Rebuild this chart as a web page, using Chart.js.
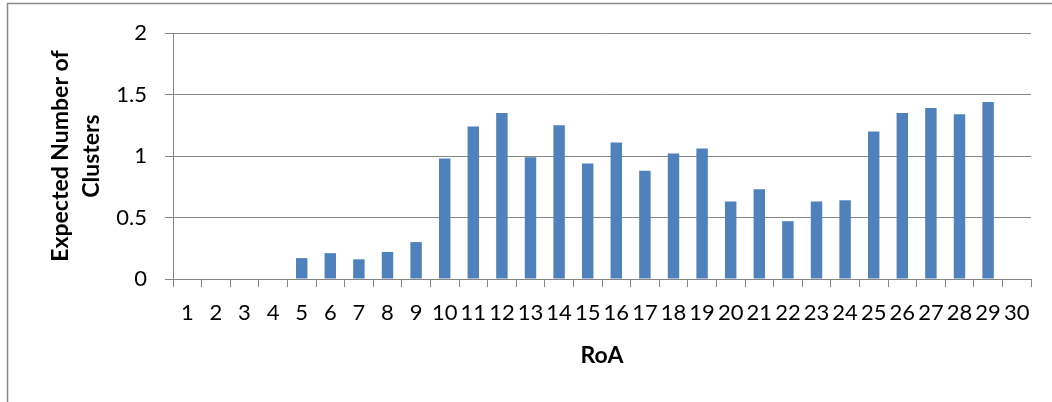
<!DOCTYPE html>
<html>
<head>
<meta charset="utf-8">
<script src="https://cdn.jsdelivr.net/npm/chart.js@4.4.1/dist/chart.umd.min.js"></script>
<style>
  html, body { margin: 0; padding: 0; background: #ffffff; }
  #wrap { width: 1052px; height: 402px; position: relative; }
</style>
</head>
<body>
<div id="wrap"><canvas id="chart" width="1052" height="402"></canvas></div>
<script>
// RoA categories along the x axis
const roaLabels = ['1','2','3','4','5','6','7','8','9','10','11','12','13','14','15',
                   '16','17','18','19','20','21','22','23','24','25','26','27','28','29','30'];

// Expected number of clusters for each RoA
const expectedClusters = [0, 0, 0, 0, 0.17, 0.21, 0.16, 0.22, 0.30, 0.98,
                          1.24, 1.35, 0.99, 1.25, 0.94, 1.11, 0.88, 1.02, 1.06, 0.63,
                          0.73, 0.47, 0.63, 0.64, 1.20, 1.35, 1.39, 1.34, 1.44, 0];

// Value axis range and labelled steps
const yMin = 0;
const yMax = 2;
const yStep = 0.5;
const yTickLabels = { 0: '0', 0.5: '0.5', 1: '1', 1.5: '1.5', 2: '2' };

const xTitle = 'RoA';
const yTitle = ['Expected Number of', 'Clusters'];

const FONT = "Lato, 'Open Sans', 'Liberation Sans', sans-serif";
const GRID = '#868686';

// Thin frame on the top and left edges of the chart
const framePlugin = {
  id: 'frame',
  afterDraw(chart) {
    const ctx = chart.ctx;
    ctx.save();
    ctx.strokeStyle = '#8a8a8a';
    ctx.lineWidth = 1.5;
    ctx.beginPath();
    ctx.moveTo(7.5, 402);
    ctx.lineTo(7.5, 3.5);
    ctx.lineTo(1052, 3.5);
    ctx.stroke();
    ctx.restore();
  }
};

new Chart(document.getElementById('chart'), {
  type: 'bar',
  data: {
    labels: roaLabels,
    datasets: [{
      data: expectedClusters,
      backgroundColor: '#4f81bd',
      borderWidth: 0,
      categoryPercentage: 1.0,
      barPercentage: 0.4
    }]
  },
  options: {
    responsive: false,
    animation: false,
    devicePixelRatio: 1,
    layout: { padding: { left: 0, right: 21, top: 33, bottom: 0 } },
    plugins: {
      legend: { display: false },
      tooltip: { enabled: false }
    },
    scales: {
      x: {
        grid: {
          display: true,
          drawOnChartArea: false,
          drawTicks: true,
          tickLength: 8,
          color: GRID,
          lineWidth: 1
        },
        border: { display: true, color: GRID, width: 1 },
        ticks: {
          autoSkip: false,
          maxRotation: 0,
          minRotation: 0,
          padding: 13,
          color: '#000000',
          font: { family: FONT, size: 22 }
        },
        title: {
          display: true,
          text: xTitle,
          color: '#000000',
          font: { family: FONT, size: 23, weight: 'bold', lineHeight: 1.2 },
          padding: { top: 0, bottom: 33 }
        },
        afterFit(scale) { scale.height = 123; }
      },
      y: {
        min: yMin,
        max: yMax,
        ticks: {
          stepSize: yStep,
          padding: 18,
          color: '#000000',
          font: { family: FONT, size: 22 },
          callback: (v) => yTickLabels[v] ?? String(v)
        },
        grid: {
          color: GRID,
          lineWidth: 1,
          drawTicks: true,
          tickLength: 8
        },
        border: { display: true, color: GRID, width: 1 },
        title: {
          display: true,
          text: yTitle,
          color: '#000000',
          font: { family: FONT, size: 23, weight: 'bold', lineHeight: 1.35 },
          padding: { top: 45, bottom: 0 }
        },
        afterFit(scale) { scale.width = 173; }
      }
    }
  },
  plugins: [framePlugin]
});
</script>
</body>
</html>
